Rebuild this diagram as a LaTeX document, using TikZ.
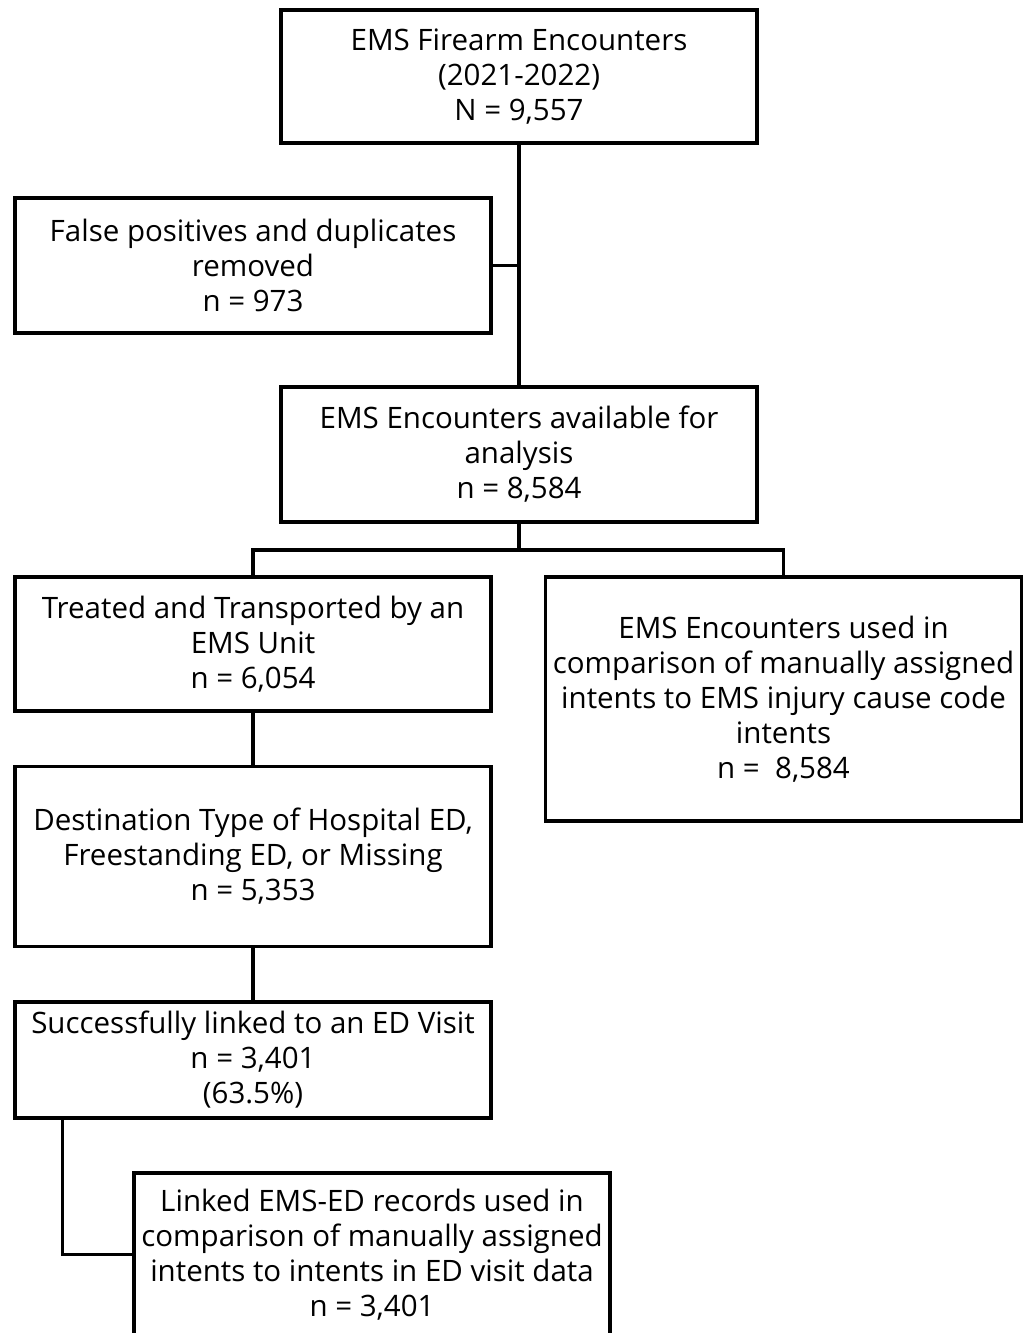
\documentclass[tikz,border=0pt]{standalone}
\usepackage{fontspec}
\setmainfont{Open Sans}
\begin{document}
\begin{tikzpicture}[x=1pt,y=-1pt,
  box/.style={draw=black,line width=3.5pt,rectangle,inner sep=0pt,align=center,
    minimum width=476pt,font=\fontsize{29.5}{35}\selectfont},
  link/.style={draw=black,line width=3.5pt}]
\fill[white] (0,0) rectangle (1024,1333);
\useasboundingbox (0,0) rectangle (1024,1333);
\begin{scope}
\clip (0,0) rectangle (1024,1333);
\node[box,minimum height=133pt] (b1) at (519,76.5) {EMS Firearm Encounters\\(2021-2022)\\N = 9,557};
\node[box,minimum height=135pt] (b2) at (253,265.5) {False positives and duplicates\\removed\\n = 973};
\node[box,minimum height=135pt] (b3) at (519,454.5) {EMS Encounters available for\\analysis\\n = 8,584};
\node[box,minimum height=134pt] (b4) at (253,644) {Treated and Transported by an\\EMS Unit\\n = 6,054};
\node[box,minimum height=244pt] (b5) at (783.5,699) {EMS Encounters used in\\comparison of manually assigned\\intents to EMS injury cause code\\intents\\n =\ \ 8,584};
\node[box,minimum height=180pt] (b6) at (253,856.5) {Destination Type of Hospital ED,\\Freestanding ED, or Missing\\n = 5,353};
\node[box,minimum height=116pt] (b7) at (253,1060) {Successfully linked to an ED Visit\\n = 3,401\\(63.5\%)};
\node[box,minimum height=163pt] (b8) at (372,1254.5) {Linked EMS-ED records used in\\comparison of manually assigned\\intents to intents in ED visit data\\n = 3,401};
\coordinate (split) at (519,550);
\draw[link] (b1.south) -- (b3.north);
\draw[link] (b2.east) -- (b2.east -| b1.south);
\draw[link] (b3.south) -- (split);
\draw[link] (b4.north) |- (split) -| (b5.north);
\draw[link] (b4.south) -- (b6.north);
\draw[link] (b6.south) -- (b7.north);
\draw[link] ([xshift=49pt]b7.south west) |- (b8.west);
\end{scope}
\end{tikzpicture}
\end{document}
